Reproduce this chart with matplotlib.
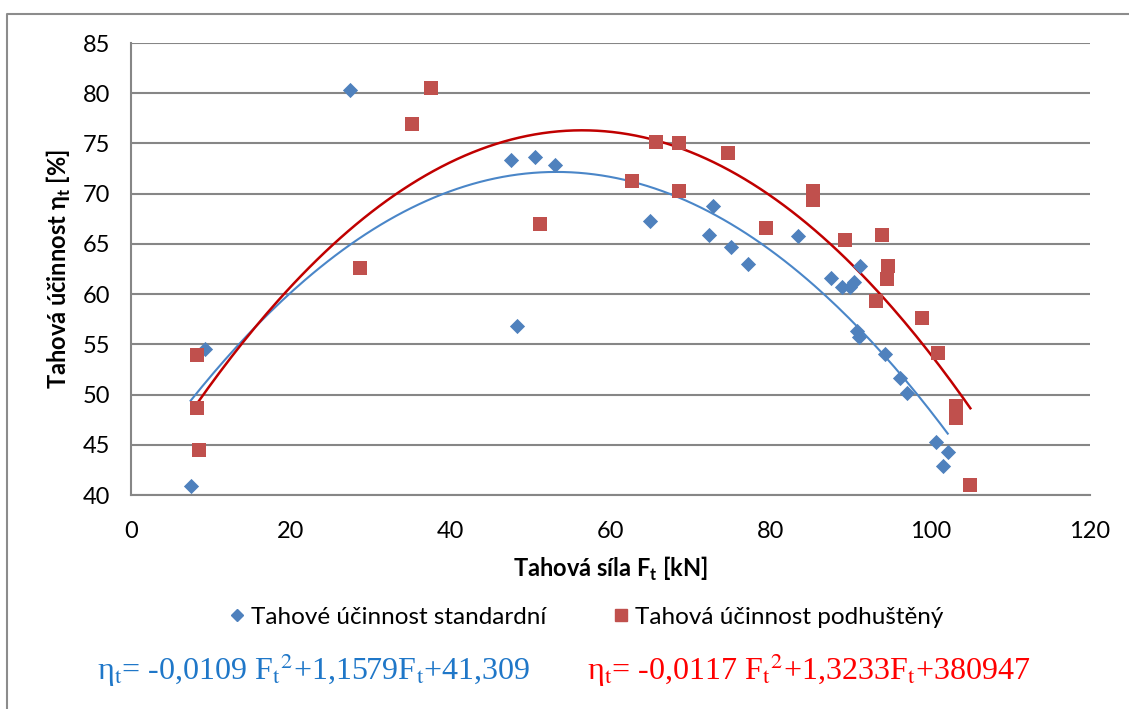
import numpy as np
import matplotlib
matplotlib.use('Agg')
import matplotlib.pyplot as plt
from matplotlib.lines import Line2D

plt.rcParams['font.family'] = ['Lato', 'DejaVu Sans']
plt.rcParams['mathtext.fontset'] = 'custom'
plt.rcParams['mathtext.rm'] = 'Lato'
plt.rcParams['mathtext.bf'] = 'Lato:bold'

# Data
std_force = [7.46, 9.2, 27.4, 47.55, 48.3, 50.5, 53.05, 64.9, 72.35, 72.8,
             75.07, 77.16, 83.5, 87.55, 89.0, 90.0, 90.5, 91.23, 90.87, 91.14,
             94.4, 96.22, 97.04, 100.76, 101.6, 102.2]
std_eff = [40.86, 54.54, 80.28, 73.34, 56.8, 73.67, 72.87, 67.23, 65.86, 68.79,
           64.7, 62.97, 65.76, 61.64, 60.7, 60.7, 61.18, 62.77, 56.33, 55.76,
           54.04, 51.64, 50.15, 45.23, 42.84, 44.33]

low_force = [8.2, 8.2, 8.45, 28.7, 35.2, 37.6, 51.2, 62.68, 65.67, 68.53,
             68.62, 74.75, 79.52, 85.33, 85.33, 89.32, 93.18, 94.0, 94.6, 94.72,
             98.95, 100.94, 103.17, 103.26, 105.03]
low_eff = [53.9, 48.64, 44.47, 62.64, 76.9, 80.5, 66.96, 71.28, 75.13, 70.22,
           75.03, 74.04, 66.6, 70.28, 69.39, 65.4, 59.29, 65.9, 61.48, 62.84,
           57.62, 54.1, 48.89, 47.62, 40.98]

x_ticks = [0, 20, 40, 60, 80, 100, 120]
y_ticks = [40, 45, 50, 55, 60, 65, 70, 75, 80, 85]

label_std = 'Tahové účinnost standardní'
label_low = 'Tahová účinnost podhuštěný'
eq_std = 'η$_\\mathrm{t}$= -0,0109 F$_\\mathrm{t}$$^\\mathrm{2}$+1,1579F$_\\mathrm{t}$+41,309'
eq_low = 'η$_\\mathrm{t}$= -0,0117 F$_\\mathrm{t}$$^\\mathrm{2}$+1,3233F$_\\mathrm{t}$+380947'

c_std = '#4F81BD'
c_low = '#C0504D'
grid_c = '#868686'
fs = 17

fig = plt.figure(figsize=(11.29, 7.09), dpi=100)
ax = fig.add_axes([131 / 1129, 1 - 495 / 709, (1090 - 131) / 1129, (495 - 43) / 709])

# quadratic trendlines (as Excel computes them)
for xs, ys, col, lw in [(std_force, std_eff, '#4A86C8', 1.5), (low_force, low_eff, '#C00000', 1.8)]:
    p = np.polyfit(xs, ys, 2)
    xx = np.linspace(min(xs), max(xs), 200)
    ax.plot(xx, np.polyval(p, xx), color=col, lw=lw, zorder=3)

ax.scatter(std_force, std_eff, marker='D', s=60, color=c_std, lw=0, zorder=4, label=label_std)
ax.scatter(low_force, low_eff, marker='s', s=95, color=c_low, lw=0, zorder=4, label=label_low)

ax.set_xlim(0, 120)
ax.set_ylim(40, 85)
ax.set_xticks(x_ticks)
ax.set_yticks(y_ticks)
ax.tick_params(axis='y', length=0, labelsize=fs, pad=15)
ax.tick_params(axis='x', length=0, labelsize=fs, pad=19)
ax.grid(axis='y', color=grid_c, lw=1.5)
ax.set_axisbelow(True)
for s in ['top', 'right']:
    ax.spines[s].set_visible(False)
for s in ['left', 'bottom']:
    ax.spines[s].set_color(grid_c)
    ax.spines[s].set_linewidth(1.5)

ax.set_xlabel('Tahová síla F$_\\mathbf{t}$ [kN]', fontsize=fs, fontweight='bold', labelpad=9)
ax.set_ylabel('Tahová účinnost η$_\\mathbf{t}$ [%]', fontsize=fs, fontweight='bold', labelpad=7)

handles = [Line2D([], [], marker='D', ls='', color=c_std, ms=6),
           Line2D([], [], marker='s', ls='', color=c_low, ms=8)]
fig.legend(handles, [label_std, label_low], loc='center', ncol=2,
           bbox_to_anchor=(584 / 1129, 1 - 617 / 709), frameon=False,
           fontsize=17.5, handletextpad=0.05, columnspacing=2.6, handlelength=1.0)

fig.text(97 / 1129, 1 - 670 / 709, eq_std, color='#1F77C8', fontsize=23,
         family='Liberation Serif', math_fontfamily='stix', va='center')
fig.text(587 / 1129, 1 - 670 / 709, eq_low, color='#FF0000', fontsize=23,
         family='Liberation Serif', math_fontfamily='stix', va='center')

# outer chart frame (partly cut off at the right and bottom)
fig.add_artist(Line2D([7 / 1129, 7 / 1129, 1.0], [0.0, 1 - 14 / 709, 1 - 14 / 709],
                      color='#8C8C8C', lw=1.5, transform=fig.transFigure))

fig.savefig('out.png', dpi=100)
